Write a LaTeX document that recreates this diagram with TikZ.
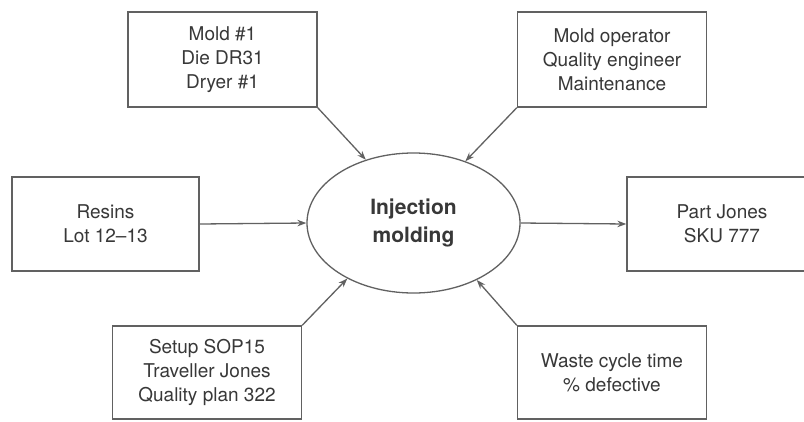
\documentclass[tikz,border=0pt]{standalone}
\usepackage{fontspec}
\setmainfont{TeX Gyre Heros}
\usetikzlibrary{shapes.geometric,arrows.meta}
\definecolor{linegray}{rgb}{0.38,0.38,0.38}
\definecolor{textgray}{rgb}{0.22,0.22,0.22}
\begin{document}
\begin{tikzpicture}[x=1pt,y=-1pt,
  infobox/.style={draw=linegray, line width=1.3pt, minimum width=189pt,
    minimum height=95pt, align=center, text=textgray, inner sep=0pt,
    font=\fontsize{19}{24}\selectfont},
  proc/.style={ellipse, draw=linegray, line width=1.3pt, minimum width=213pt,
    minimum height=140pt, inner sep=0pt, align=center, text=textgray,
    font=\bfseries\fontsize{21}{28}\selectfont},
  flow/.style={draw=linegray, line width=1.3pt,
    -{Stealth[length=9pt,width=6.5pt]}}]

% page frame
\fill[white] (0,0) rectangle (804,421);
\useasboundingbox (0,0) rectangle (804,421);
\clip (0,0) rectangle (804,421);

% central process
\node[proc] (proc) at (413.5,223) {Injection\\molding};

% surrounding elements
\node[infobox] (machines) at (222.5,59.5) {Mold \#1\\Die DR31\\Dryer \#1};
\node[infobox] (people)   at (612,59.5)   {Mold operator\\Quality engineer\\Maintenance};
\node[infobox, minimum width=187pt, minimum height=94pt] (input) at (105.5,224) {Resins\\Lot 12--13};
\node[infobox, minimum width=190pt, minimum height=94pt] (output) at (722,224) {Part Jones\\SKU 777};
\node[infobox, minimum height=93pt] (methods) at (207,372.5) {Setup SOP15\\Traveller Jones\\Quality plan 322};
\node[infobox, minimum height=93pt] (measures) at (612,372.5) {Waste cycle time\\\% defective};

% connectors
\draw[flow] (machines.south east) -- (proc.127);
\draw[flow] (people.south west)   -- (proc.50);
\draw[flow] (input.east)          -- (proc.west);
\draw[flow] (proc.east)           -- (output.west);
\draw[flow] (methods.north east)  -- (proc.220);
\draw[flow] (measures.north west) -- (proc.318);
\end{tikzpicture}
\end{document}
